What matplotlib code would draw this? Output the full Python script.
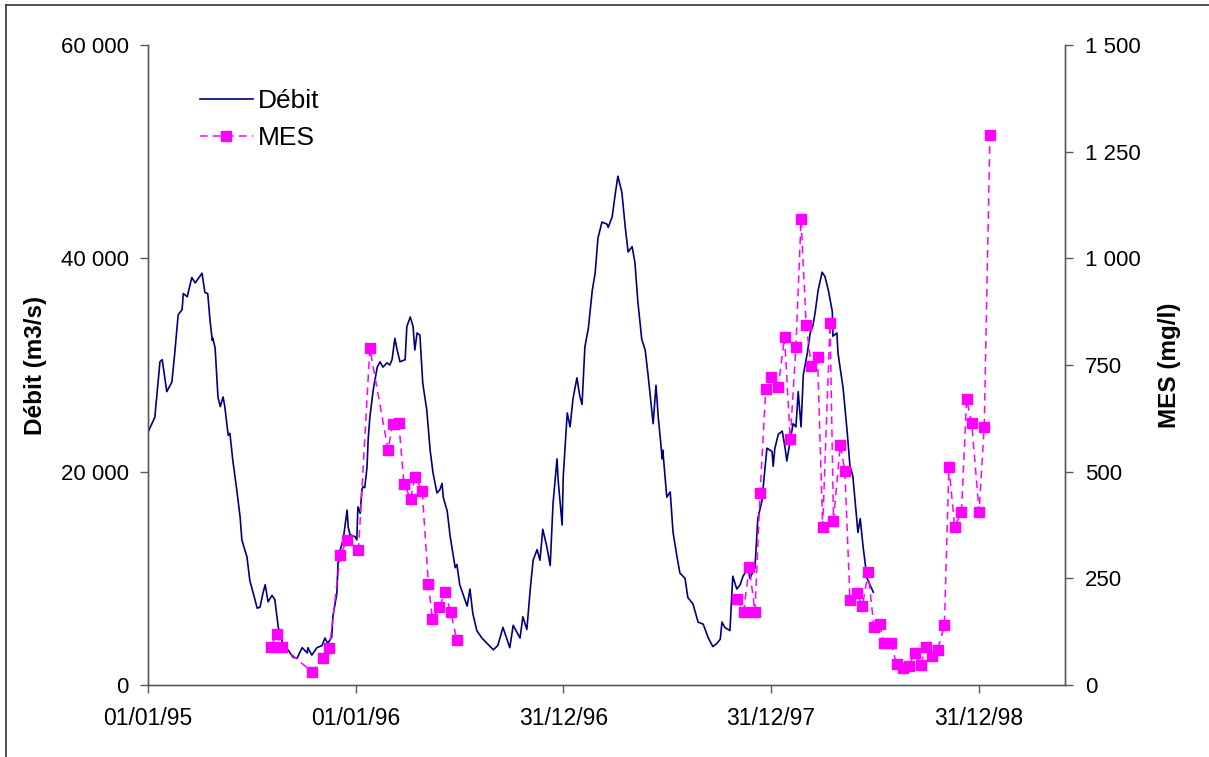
import numpy as np
import pandas as pd
import matplotlib
matplotlib.use("Agg")
import matplotlib.pyplot as plt
import matplotlib.dates as mdates
from matplotlib.lines import Line2D

plt.rcParams['font.family'] = ['Liberation Sans', 'DejaVu Sans']

ORIGIN = pd.Timestamp('1995-01-01')

# Daily discharge (m3/s), sampled: days since 01/01/1995 and values
debit_days = [
    0, 12, 21, 25, 33, 42, 47, 53, 60, 62, 69, 77, 83, 95, 100, 105, 109, 113, 114, 118,
    123, 127, 132, 135, 141, 144, 149, 156, 162, 165, 174, 179, 185, 192, 197, 202, 206, 211,
    218, 223, 229, 237, 246, 255, 262, 271, 280, 281, 288, 297, 306, 311, 316, 323, 325, 332,
    334, 338, 343, 350, 352, 355, 364, 367, 369, 373, 376, 378, 381, 385, 387, 390, 396, 403,
    408, 413, 420, 425, 429, 434, 438, 443, 452, 455, 461, 466, 469, 473, 478, 483, 490, 496,
    501, 508, 513, 517, 519, 526, 531, 540, 543, 548, 561, 566, 571, 578, 587, 596, 607, 615,
    624, 631, 636, 642, 654, 659, 666, 672, 677, 684, 689, 694, 701, 707, 712, 719, 721, 728,
    730, 737, 742, 747, 754, 759, 763, 768, 774, 781, 786, 791, 798, 807, 809, 816, 821, 826,
    833, 839, 844, 851, 856, 861, 868, 874, 879, 888, 893, 897, 904, 905, 912, 918, 923, 930,
    935, 944, 949, 958, 967, 976, 985, 993, 1000, 1006, 1009, 1014, 1023, 1028, 1035, 1041,
    1046, 1055, 1058, 1067, 1072, 1079, 1085, 1088, 1097, 1099, 1102, 1108, 1115, 1120, 1123,
    1129, 1134, 1139, 1143, 1148, 1152, 1159, 1164, 1169, 1173, 1178, 1185, 1190, 1196, 1203,
    1204, 1211, 1213, 1222, 1229, 1234, 1239, 1243, 1248, 1252, 1257, 1264, 1269, 1275,
]
debit_values = [
    23700, 25100, 30300, 30500, 27500, 28400, 31100, 34700, 35200, 36700, 36400, 38200, 37700,
    38600, 36800, 36700, 34200, 32300, 32500, 31600, 27000, 26100, 27000, 26100, 23400, 23600,
    21100, 18300, 15700, 13600, 12000, 9800, 8600, 7200, 7300, 8600, 9400, 7800, 8400, 8000,
    5400, 3900, 3300, 2600, 2500, 3500, 3000, 3500, 2800, 3500, 3700, 4400, 3900, 4500, 6400,
    8600, 11400, 12700, 13600, 16400, 14800, 14100, 13900, 13600, 16700, 16100, 18300, 18600,
    18500, 20400, 23000, 25100, 27700, 29800, 30300, 29800, 30200, 30000, 30500, 32500, 31400,
    30300, 30500, 33600, 34500, 33600, 31400, 33000, 32800, 28300, 25800, 22000, 19900, 18000,
    18300, 18900, 17600, 16300, 14000, 11000, 11300, 9400, 7400, 9000, 6700, 5100, 4400, 3900,
    3300, 3700, 5400, 4300, 3500, 5600, 4400, 6400, 5200, 9000, 11700, 12700, 11700, 14600,
    13000, 11200, 17000, 21200, 19200, 15000, 19600, 25500, 24200, 26800, 28800, 27100, 26300,
    31700, 33400, 37000, 38600, 41900, 43400, 43200, 42900, 43900, 45900, 47700, 46200, 42900,
    40600, 41100, 39600, 36000, 32400, 31400, 29100, 24500, 28100, 25100, 21200, 22000, 17600,
    18100, 14300, 12000, 10500, 10000, 8200, 7600, 5900, 5700, 4400, 3600, 3900, 4300, 5900,
    5400, 5100, 10200, 9000, 9400, 10200, 11000, 10000, 11000, 15600, 17200, 20500, 22200,
    21900, 20500, 22200, 23500, 23800, 22200, 21000, 22900, 24500, 24200, 27500, 24200, 29100,
    31100, 33000, 33700, 35000, 37000, 38700, 38300, 37000, 35000, 32700, 33000, 31100, 27800,
    23800, 20500, 19600, 17200, 14300, 15600, 13000, 10000, 9400, 8700,
]

# Suspended matter (mg/l): sampling days since 01/01/1995 and concentrations
mes_days = [
    216, 226, 236, 288, 308, 319, 338, 350, 370, 390, 422, 430, 441, 450, 462, 469, 482, 493,
    500, 512, 522, 532, 543,
    1036, 1047, 1057, 1067, 1076, 1086, 1096, 1108, 1119, 1129, 1139, 1148, 1157, 1166, 1177,
    1186, 1199, 1205, 1217, 1225, 1234, 1246, 1256, 1266, 1276, 1287, 1293, 1306, 1316, 1327,
    1338, 1348, 1358, 1368, 1378, 1388, 1400, 1408, 1418, 1430, 1439, 1448, 1461, 1470, 1480,
]
mes_values = [
    90, 119, 90, 31, 63, 87, 305, 340, 316, 789, 551, 612, 613, 470, 437, 488, 455, 236,
    154, 182, 217, 172, 105,
    201, 172, 277, 172, 449, 694, 723, 699, 816, 576, 793, 1092, 844, 748, 768,
    371, 848, 385, 563, 502, 199, 215, 186, 264, 137, 142, 98, 98, 49, 41,
    45, 76, 47, 90, 68, 82, 140, 512, 371, 405, 670, 613, 406, 605, 1288,
]

x_tick_dates = ['1995-01-01', '1996-01-01', '1996-12-31', '1997-12-31', '1998-12-31']
left_ticks = [0, 20000, 40000, 60000]
right_ticks = [0, 250, 500, 750, 1000, 1250, 1500]


def fmt_space(v):
    return f"{int(v):,}".replace(",", " ")


debit = pd.Series(debit_values, index=ORIGIN + pd.to_timedelta(debit_days, unit='D'))
mes = pd.Series(mes_values, index=ORIGIN + pd.to_timedelta(mes_days, unit='D'), dtype=float)

# Break the dashed MES line between the two sampling campaigns
gap = mes.index.to_series().diff() > pd.Timedelta(days=200)
mes_plot = mes.copy()
for t in mes.index[gap.values]:
    mes_plot.loc[t - pd.Timedelta(days=1)] = np.nan
mes_plot = mes_plot.sort_index()

fig = plt.figure(figsize=(12.09, 7.57), dpi=100)
ax = fig.add_axes([148 / 1209, 1 - 685 / 757, (1065 - 148) / 1209, (685 - 45) / 757])
ax2 = ax.twinx()

spine_col = '#5a5a5a'
ax.plot(debit.index, debit.values, color='#000080', lw=1.2, label='Débit', zorder=3)
ax2.plot(mes_plot.index, mes_plot.values, color='#ff00ff', lw=1.1, ls=(0, (5, 3.5)),
         marker='s', ms=7, mec='#ff00ff', mfc='#ff00ff', label='MES', zorder=4)

ax.set_xlim(ORIGIN, ORIGIN + pd.Timedelta(days=1612))
ax.set_ylim(0, 60000)
ax2.set_ylim(0, 1500)

ax.set_xticks(pd.to_datetime(x_tick_dates))
ax.xaxis.set_major_formatter(mdates.DateFormatter('%d/%m/%y'))
ax.set_yticks(left_ticks)
ax.set_yticklabels([fmt_space(v) for v in left_ticks])
ax2.set_yticks(right_ticks)
ax2.set_yticklabels([fmt_space(v) for v in right_ticks])

for a in (ax, ax2):
    a.spines['top'].set_visible(False)
    for s in ('left', 'right', 'bottom'):
        a.spines[s].set_color(spine_col)
        a.spines[s].set_linewidth(1.0)
    a.tick_params(axis='both', which='major', direction='out', length=6, width=1.0,
                  color=spine_col, labelsize=16, pad=6)
ax.tick_params(axis='y', pad=8)
ax2.tick_params(axis='y', pad=8.5)
ax.tick_params(axis='x', pad=10, labelsize=16.5)

ax.set_ylabel('Débit (m3/s)', fontsize=17.5, fontweight='bold', labelpad=10)
ax2.set_ylabel('MES (mg/l)', fontsize=17.5, fontweight='bold', labelpad=12)

handles = [Line2D([], [], color='#000080', lw=1.2),
           Line2D([], [], color='#ff00ff', lw=1.1, ls=(0, (5, 3.5)), marker='s', ms=7)]
ax.legend(handles, ['Débit', 'MES'], loc='upper left', bbox_to_anchor=(0.045, 0.948),
          frameon=False, fontsize=19, handlelength=2.0, handletextpad=0.2,
          labelspacing=0.5, borderaxespad=0)

# Outer chart frame
fig.add_artist(Line2D([6 / 1209, 1], [1 - 5 / 757, 1 - 5 / 757], color='#333333', lw=1.2,
                      transform=fig.transFigure))
fig.add_artist(Line2D([6 / 1209, 6 / 1209], [0, 1 - 5 / 757], color='#333333', lw=1.2,
                      transform=fig.transFigure))

fig.savefig('out.png', dpi=100)
